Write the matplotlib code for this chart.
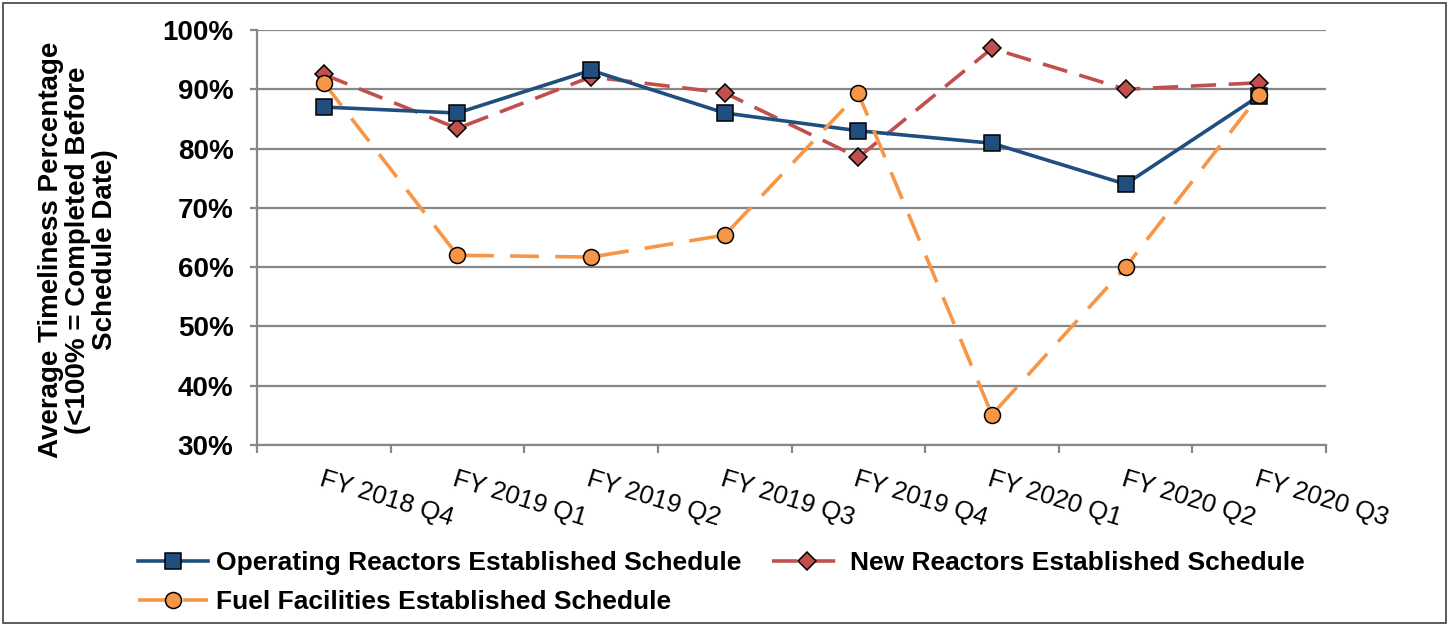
import numpy as np
import matplotlib
matplotlib.use("Agg")
import matplotlib.pyplot as plt
from matplotlib.patches import Rectangle
from matplotlib.ticker import FixedLocator, PercentFormatter

plt.rcParams.update({
    "font.family": "Liberation Sans",
})

# Daten
quarters = ["FY 2018 Q4", "FY 2019 Q1", "FY 2019 Q2", "FY 2019 Q3",
            "FY 2019 Q4", "FY 2020 Q1", "FY 2020 Q2", "FY 2020 Q3"]
operating = [87.0, 86.0, 93.2, 86.0, 83.0, 80.9, 74.0, 88.9]
new_reactors = [92.5, 83.4, 92.1, 89.4, 78.5, 96.9, 90.0, 91.1]
fuel = [91.1, 62.0, 61.7, 65.4, 89.3, 35.1, 60.0, 89.0]

grid_col = "#878787"

fig = plt.figure(figsize=(14.5, 6.26), dpi=100)
ax = fig.add_axes([257/1450, 1-445/626, (1326-257)/1450, (445-30)/626])

x = np.arange(len(quarters))
l_op, = ax.plot(x, operating, color="#1F4E7F", lw=2.6, marker="s", ms=12,
                mfc="#1F4E7F", mec="black", mew=1.1, zorder=4)
l_new, = ax.plot(x, new_reactors, color="#C0504D", lw=2.6, ls=(0, (7, 3.5)),
                 marker="D", ms=9.5, mfc="#C0504D", mec="black", mew=1.1, zorder=3)
l_fuel, = ax.plot(x, fuel, color="#F79646", lw=2.6, ls=(0, (8, 4.5)),
                  marker="o", ms=11.5, mfc="#F79646", mec="black", mew=1.1, zorder=5)

ax.set_xlim(-0.5, 7.5)
ax.set_ylim(30, 100)
ax.set_yticks(np.arange(30, 101, 10))
ax.yaxis.set_major_formatter(PercentFormatter(decimals=0))
ax.grid(axis="y", color=grid_col, lw=1.6)
ax.set_axisbelow(True)
for s in ["top", "right"]:
    ax.spines[s].set_visible(False)
for s in ["left", "bottom"]:
    ax.spines[s].set_color(grid_col)
    ax.spines[s].set_linewidth(1.6)

ax.tick_params(axis="y", length=5, width=1.6, color=grid_col, pad=12,
               labelsize=20)
for t in ax.get_yticklabels():
    t.set_fontweight("bold")

ax.set_xticks(x)
ax.set_xticklabels(quarters, rotation=-17, ha="left", va="top",
                   rotation_mode="anchor", fontsize=18.5)
ax.tick_params(axis="x", which="major", length=0, pad=16)
ax.xaxis.set_minor_locator(FixedLocator(np.arange(-0.5, 8, 1)))
ax.tick_params(axis="x", which="minor", length=6, width=1.6, color=grid_col)

fig.text(78/1450, 1-250/626,
         "Average Timeliness Percentage\n(<100% = Completed Before\nSchedule Date)",
         rotation=90, ha="center", va="center", multialignment="center",
         fontsize=20, fontweight="bold", linespacing=1.05)

leg = fig.legend([l_op, l_fuel, l_new],
                 ["Operating Reactors Established Schedule",
                  "Fuel Facilities Established Schedule",
                  "New Reactors Established Schedule"],
                 ncol=2, loc="upper left", bbox_to_anchor=(120/1450, 1-533/626),
                 frameon=False, handlelength=2.65, handletextpad=0.3,
                 columnspacing=1.15, labelspacing=0.55, borderpad=0.2,
                 prop={"size": 19, "weight": "bold"})

fig.patches.append(Rectangle((3/1450, 3/626), 1-7/1450, 1-6/626,
                             transform=fig.transFigure, fill=False,
                             ec="#404040", lw=1.2))

fig.savefig("out.png", dpi=100)
